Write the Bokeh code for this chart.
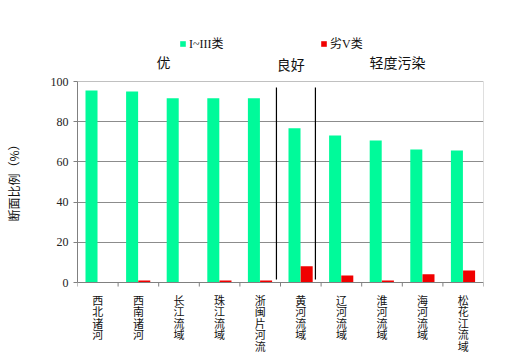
from bokeh.plotting import figure
from bokeh.models import (Range1d, FixedTicker, Legend, LegendItem, ColumnDataSource)
from bokeh.core.properties import value
from bokeh.transform import dodge
from bokeh.embed import file_html
from bokeh.resources import INLINE

# ---- data ----
basins = ["西北诸河", "西南诸河", "长江流域", "珠江流域", "浙闽片河流",
          "黄河流域", "辽河流域", "淮河流域", "海河流域", "松花江流域"]
good_I_III = [95.5, 95.0, 91.7, 91.7, 91.7, 76.8, 73.1, 70.6, 66.2, 65.7]
worse_V = [0.0, 1.0, 0.0, 1.0, 1.0, 8.1, 3.5, 1.0, 4.1, 6.0]
y_ticks = [0, 20, 40, 60, 80, 100]
series_names = ["I~III类", "劣V类"]
group_names = ["优", "良好", "轻度污染"]
group_centers = [2.12, 5.25, 7.88]
divider_positions = [4.9, 5.86]

GREEN = "#00FA9A"
RED = "#F00000"
CJK = "Noto Sans CJK SC"
SERIF = "Liberation Serif, Noto Sans CJK SC"

n = len(basins)
xc = [i + 0.5 for i in range(n)]
ymin, ymax = y_ticks[0], y_ticks[-1]

# frame covers the whole height; 0..100 occupies the chart area
p = figure(width=513, height=359, output_backend="svg", toolbar_location=None,
           x_range=Range1d(0, n), y_range=Range1d(-38.3, 140.3),
           x_axis_location=None,
           min_border_left=77, min_border_right=30,
           min_border_top=0, min_border_bottom=0)
p.outline_line_color = None
p.xgrid.grid_line_color = None

src = ColumnDataSource(dict(x=xc, g=good_I_III, r=worse_V))
gr = p.vbar(x=dodge("x", -0.155, range=p.x_range), top="g", width=0.296, source=src,
            fill_color=GREEN, line_color=None)
rr = p.vbar(x=dodge("x", 0.145, range=p.x_range), top="r", width=0.296, source=src,
            fill_color=RED, line_color=None)

# y axis (only 0..100)
p.yaxis.ticker = FixedTicker(ticks=y_ticks)
p.yaxis.bounds = (ymin, ymax)
p.yaxis.major_tick_line_color = "#808080"
p.yaxis.major_tick_out = 4
p.yaxis.major_tick_in = 0
p.yaxis.minor_tick_line_color = None
p.yaxis.axis_line_color = "#808080"
p.yaxis.major_label_text_font = SERIF
p.yaxis.major_label_text_font_size = "12px"
p.yaxis.major_label_text_color = "#222222"
p.yaxis.major_label_standoff = 5
p.yaxis.axis_label = "断面比例（%）"
p.yaxis.axis_label_text_font = CJK
p.yaxis.axis_label_text_font_size = "12px"
p.yaxis.axis_label_text_font_style = "normal"
p.yaxis.axis_label_text_color = "#111111"
p.yaxis.axis_label_standoff = 26
p.ygrid.ticker = FixedTicker(ticks=y_ticks[1:-1])
p.ygrid.grid_line_color = "#8C8C8C"
p.ygrid.bounds = (0, n)

# chart border: top and right (light), baseline (gray)
p.segment(x0=[0, n], x1=[n, n], y0=[ymax, ymin], y1=[ymax, ymax],
          line_color="#C0C0C0", line_width=1)
p.segment(x0=[0], x1=[n], y0=[ymin], y1=[ymin], line_color="#808080", line_width=1)
# category boundary ticks
bounds_x = list(range(n + 1))
p.segment(x0=bounds_x, x1=bounds_x, y0=[ymin] * (n + 1), y1=[ymin - 2] * (n + 1),
          line_color="#808080", line_width=1)

# dividers
p.segment(x0=divider_positions, x1=divider_positions, y0=[97, 97], y1=[1.5, 1.5],
          line_color="black", line_width=1.2)

# vertical (stacked) category labels
lx, ly, lt = [], [], []
for x, name in zip(xc, basins):
    for k, ch in enumerate(name):
        lx.append(x)
        ly.append(ymin - 4.6 - k * 5.75)
        lt.append(ch)
p.text(x=lx, y=ly, text=lt, text_align="center", text_baseline="top",
       text_font=value(CJK), text_font_size="11px", text_color="#111111")

# group titles
p.text(x=group_centers, y=[109.5, 108.5, 109.5], text=group_names,
       text_align="center", text_baseline="middle",
       text_font=value(CJK), text_font_size="14px", text_color="#111111")

# legends
for rend, name, loc in [(gr, series_names[0], (102, 307)),
                        (rr, series_names[1], (243, 307))]:
    lg = Legend(items=[LegendItem(label=name, renderers=[rend])],
                location=loc, orientation="horizontal",
                glyph_width=7, glyph_height=7, label_standoff=3,
                padding=0, margin=0, spacing=0,
                border_line_color=None, background_fill_alpha=0,
                label_text_font=SERIF, label_text_font_size="12px",
                label_height=12, label_text_color="#111111")
    p.add_layout(lg, "center")

open("out.html", "w").write(file_html(p, INLINE))
